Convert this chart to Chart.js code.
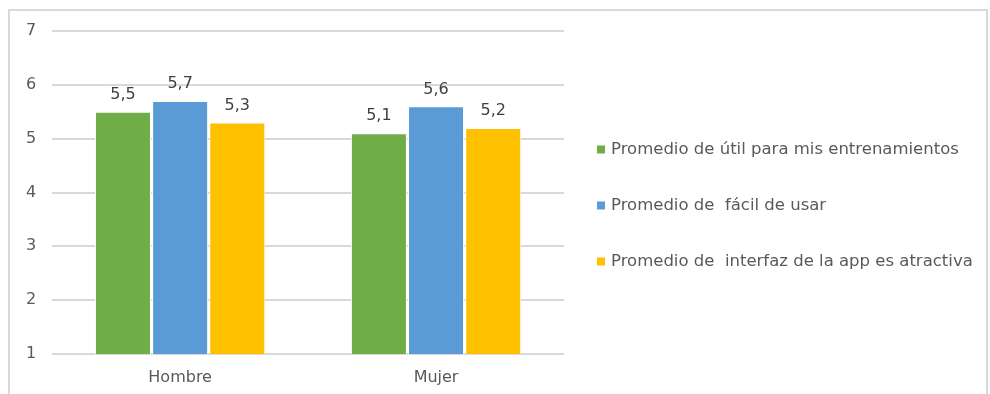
<!DOCTYPE html>
<html>
<head>
<meta charset="utf-8">
<script src="https://cdn.jsdelivr.net/npm/chart.js@4"></script>
<style>
  html, body { margin: 0; padding: 0; background: #fff; }
  #frame {
    position: absolute; left: 8px; top: 9px;
    width: 980px; height: 400px;
    border: 2px solid #d9d9d9; border-bottom: none;
    box-sizing: border-box;
  }
  #chart { position: absolute; left: 0; top: 0; }
</style>
</head>
<body>
<div id="frame"><canvas id="chart" width="978" height="383"></canvas></div>
<script>
const categories = ['Hombre', 'Mujer'];
const seriesNames = [
    'Promedio de útil para mis entrenamientos',
    'Promedio de  fácil de usar',
    'Promedio de  interfaz de la app es atractiva'
];
const utilValues = [5.5, 5.1];
const facilValues = [5.7, 5.6];
const interfazValues = [5.3, 5.2];
const yTicks = [1, 2, 3, 4, 5, 6, 7];

const colors = ['#70ad47', '#5b9bd5', '#ffc000'];
const FONT = '"DejaVu Sans", sans-serif';

function createDataset(label, data, color) {
    return {
        label, data,
        backgroundColor: color,
        borderColor: '#ffffff',
        borderWidth: 1,
        barPercentage: 0.98,
        categoryPercentage: 0.67
    };
}

// prints each bar's value above it, with a decimal comma
const valueLabels = {
    id: 'valueLabels',
    afterDatasetsDraw(chart) {
        const ctx = chart.ctx;
        ctx.save();
        ctx.font = '16px ' + FONT;
        ctx.fillStyle = '#404040';
        ctx.textAlign = 'center';
        ctx.textBaseline = 'bottom';
        chart.data.datasets.forEach((ds, i) => {
            chart.getDatasetMeta(i).data.forEach((bar, j) => {
                ctx.fillText(ds.data[j].toFixed(1).replace('.', ','), bar.x, bar.y - 9);
            });
        });
        ctx.restore();
    }
};

// legend drawn in the space reserved on the right of the plot
const sideLegend = {
    id: 'sideLegend',
    afterDraw(chart) {
        const ctx = chart.ctx;
        const area = chart.chartArea;
        const x = area.right + 33;
        const mid = (area.top + area.bottom) / 2 + 13;
        ctx.save();
        ctx.font = '16.5px ' + FONT;
        ctx.textBaseline = 'middle';
        chart.data.datasets.forEach((ds, i) => {
            const y = mid + (i - 1) * 56;
            ctx.fillStyle = ds.backgroundColor;
            ctx.fillRect(x, y - 4, 8, 8);
            ctx.fillStyle = '#595959';
            ctx.fillText(ds.label, x + 14, y);
        });
        ctx.restore();
    }
};

new Chart(document.getElementById('chart'), {
    type: 'bar',
    data: {
        labels: categories,
        datasets: [
            createDataset(seriesNames[0], utilValues, colors[0]),
            createDataset(seriesNames[1], facilValues, colors[1]),
            createDataset(seriesNames[2], interfazValues, colors[2])
        ]
    },
    options: {
        responsive: false,
        animation: false,
        layout: { padding: { left: 0, right: 424, top: 20, bottom: 0 } },
        plugins: {
            legend: { display: false },
            tooltip: { enabled: false }
        },
        scales: {
            x: {
                grid: { display: false, drawTicks: false },
                border: { display: false },
                afterFit: axis => { axis.height = 40; },
                ticks: { color: '#595959', font: { size: 16, family: FONT }, padding: 14 }
            },
            y: {
                min: 1,
                max: 7,
                afterBuildTicks: axis => { axis.ticks = yTicks.map(v => ({ value: v })); },
                afterFit: axis => { axis.paddingTop = 0; },
                grid: { color: '#d9d9d9', lineWidth: 2, drawTicks: false },
                border: { display: false },
                ticks: { color: '#595959', font: { size: 16, family: FONT }, padding: 16 }
            }
        }
    },
    plugins: [valueLabels, sideLegend]
});
</script>
</body>
</html>
